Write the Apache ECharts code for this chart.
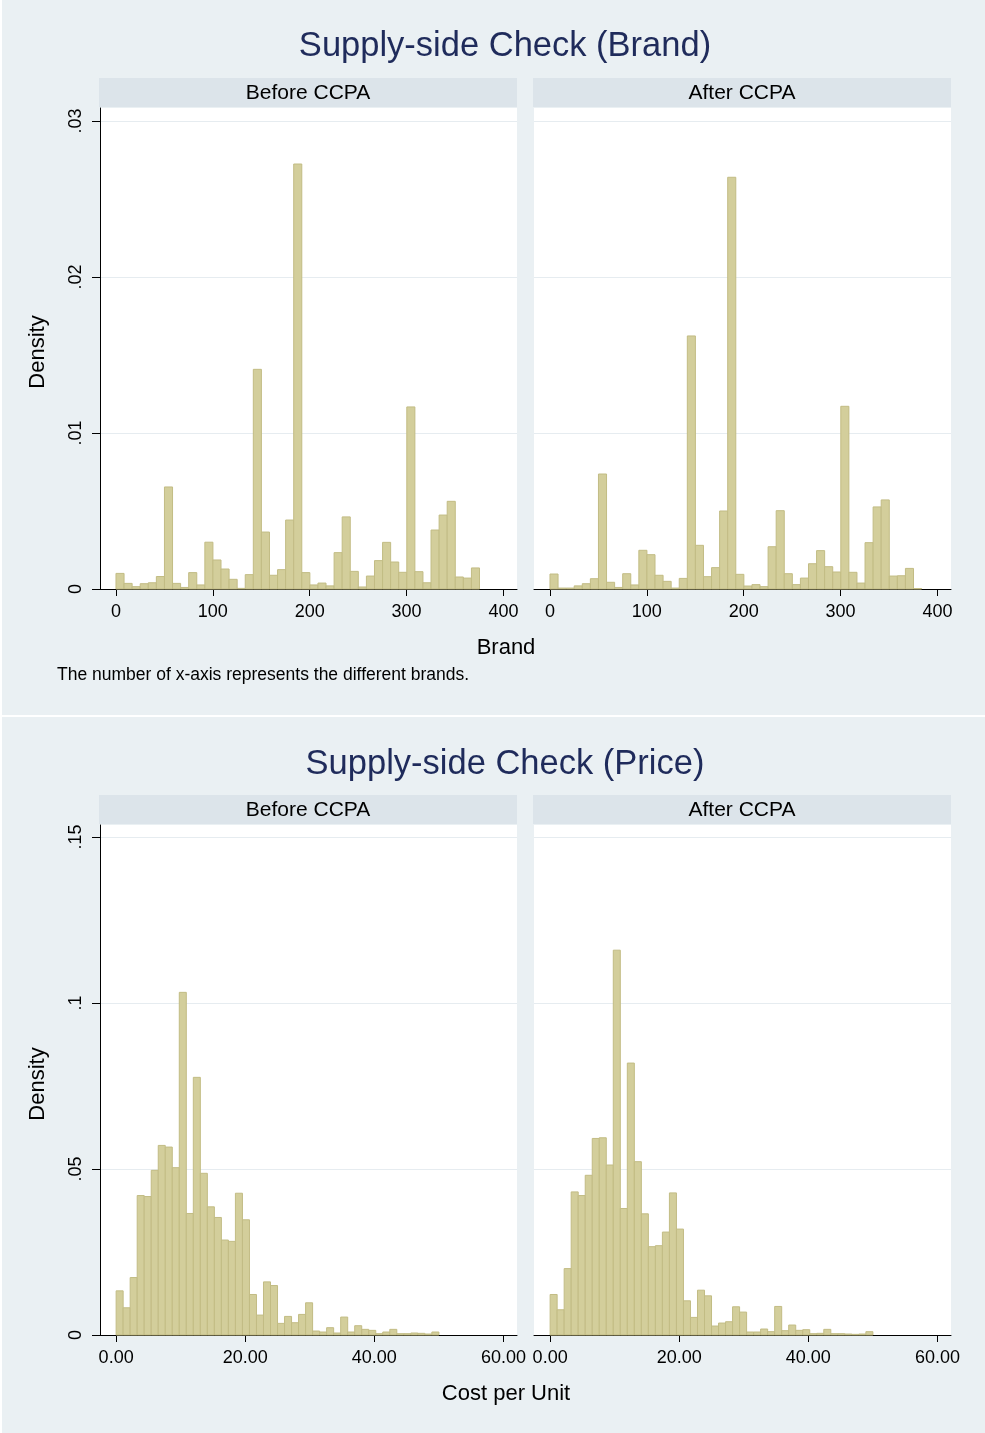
<!DOCTYPE html>
<html><head><meta charset="utf-8">
<script src="https://cdn.jsdelivr.net/npm/echarts@6/dist/echarts.min.js"></script>
<style>html,body{margin:0;padding:0;background:#fff}#c{width:985px;height:1433px}</style>
</head><body><div id="c"></div>
<script>
// ---------- data ----------
const brandBinStart = 0;
const brandBinWidth = 8.34;
const brandBefore = [0.0010, 0.00036, 0.00015, 0.00034, 0.0004, 0.0008, 0.00654, 0.00036, 0.0001, 0.00105,
  0.00026, 0.0030, 0.00186, 0.00128, 0.00062, 0.00004, 0.00092, 0.01408, 0.00365, 0.00088,
  0.00124, 0.00442, 0.02724, 0.00105, 0.00026, 0.00038, 0.0002, 0.00233, 0.00462, 0.00113,
  0.00013, 0.00083, 0.00182, 0.00299, 0.00173, 0.00107, 0.01167, 0.00111, 0.0004, 0.00378,
  0.00474, 0.00562, 0.00077, 0.0007, 0.00135];
const brandAfter = [0.00096, 0.00006, 0.00006, 0.0002, 0.00034, 0.00066, 0.00737, 0.00043, 0.0001, 0.00098,
  0.00026, 0.00248, 0.0022, 0.00088, 0.00049, 0.00006, 0.00068, 0.01622, 0.0028, 0.00079,
  0.00137, 0.005, 0.02639, 0.00094, 0.00019, 0.00028, 0.00015, 0.00271, 0.00502, 0.00098,
  0.00028, 0.0007, 0.00162, 0.00246, 0.00143, 0.00109, 0.01171, 0.00107, 0.00038, 0.00297,
  0.00526, 0.00571, 0.00083, 0.00085, 0.00132, 0.00003];
const priceBinStart = 0;
const priceBinWidth = 1.087;
const priceBefore = [0.0133, 0.0082, 0.0173, 0.0420, 0.0417, 0.0496, 0.0571, 0.0566, 0.0504, 0.1032,
  0.0366, 0.0776, 0.0487, 0.0386, 0.0354, 0.0286, 0.0282, 0.0427, 0.0347, 0.0122,
  0.0060, 0.0160, 0.0149, 0.0035, 0.0056, 0.0037, 0.0062, 0.0097, 0.0012, 0.0009,
  0.0022, 0.0006, 0.0054, 0.0009, 0.0028, 0.0017, 0.0014, 0.0004, 0.0009, 0.0017,
  0.0004, 0.0004, 0.0006, 0.0005, 0.0003, 0.0009];
const priceAfter = [0.0122, 0.0076, 0.0200, 0.0431, 0.0420, 0.0481, 0.0592, 0.0594, 0.0512, 0.1159,
  0.0381, 0.0819, 0.0522, 0.0365, 0.0266, 0.0269, 0.0310, 0.0428, 0.0319, 0.0103,
  0.0053, 0.0135, 0.0118, 0.0027, 0.0036, 0.0040, 0.0085, 0.0069, 0.0009, 0.0009,
  0.0018, 0.0010, 0.0086, 0.0013, 0.0030, 0.0014, 0.0016, 0.0004, 0.0005, 0.0017,
  0.0004, 0.0004, 0.0003, 0.0002, 0.0003, 0.0010];
const brandXTicks = [0, 100, 200, 300, 400];
const priceXTicks = [0, 20, 40, 60];
const brandYTicks = [0, 0.01, 0.02, 0.03];
const priceYTicks = [0, 0.05, 0.1, 0.15];
const panelTitles = ['Supply-side Check (Brand)', 'Supply-side Check (Price)'];
const facetLabels = ['Before CCPA', 'After CCPA'];
const xTitles = ['Brand', 'Cost per Unit'];
const yTitle = 'Density';
const noteText = 'The number of x-axis represents the different brands.';

// ---------- styling ----------
const FONT = "'Liberation Sans', Arial, Helvetica, sans-serif";
const BG = '#EAF0F3';
const STRIP = '#DCE4EA';
const GRIDC = '#E6ECF0';
const BAR_FILL = '#D3CE9B';
const BAR_LINE = '#C2BC84';
const TITLE_C = '#1F2B5B';

const grids = [
  {left: 100, top: 108, width: 417, height: 481},
  {left: 534, top: 108, width: 417, height: 481},
  {left: 100, top: 825, width: 417, height: 510},
  {left: 534, top: 825, width: 417, height: 510}
].map(g => Object.assign({show: true, backgroundColor: '#fff', borderWidth: 0, containLabel: false}, g));

function densFmt(v) {
  if (Math.abs(v) < 1e-12) return '0';
  return String(+v.toFixed(4)).replace(/^0/, '');
}

function xAxis(idx, min, max, ticks, fmt) {
  return {
    type: 'value', gridIndex: idx, min: min, max: max,
    axisLine: {show: true, onZero: false, lineStyle: {color: '#000', width: 1}},
    axisTick: {show: true, length: 7, lineStyle: {color: '#000'}, customValues: ticks},
    axisLabel: {show: true, margin: 14, fontSize: 18, color: '#000', fontFamily: FONT,
      customValues: ticks, formatter: fmt},
    splitLine: {show: false}
  };
}
function yAxis(idx, max, ticks, interval, showAxis) {
  return {
    type: 'value', gridIndex: idx, min: 0, max: max, interval: interval,
    axisLine: {show: showAxis, onZero: false, lineStyle: {color: '#000', width: 1}},
    axisTick: {show: showAxis, length: 8, lineStyle: {color: '#000'}, customValues: ticks},
    axisLabel: {show: showAxis, rotate: 90, margin: 15, fontSize: 18, color: '#000', fontFamily: FONT,
      customValues: ticks, formatter: densFmt},
    splitLine: {show: true, lineStyle: {color: GRIDC, width: 1}}
  };
}

function histSeries(values, start, width, idx) {
  return {
    type: 'custom', xAxisIndex: idx, yAxisIndex: idx, silent: true, clip: false,
    data: values.map((v, i) => [start + i * width, start + (i + 1) * width, v]),
    encode: {x: [0, 1], y: 2},
    renderItem: function (params, api) {
      const p0 = api.coord([api.value(0), api.value(2)]);
      const p1 = api.coord([api.value(1), 0]);
      return {
        type: 'rect',
        shape: {x: p0[0], y: p0[1], width: p1[0] - p0[0], height: p1[1] - p0[1]},
        style: {fill: BAR_FILL, stroke: BAR_LINE, lineWidth: 1}
      };
    }
  };
}

const brandX = v => String(Math.round(v));
const priceX = v => v.toFixed(2);

const graphics = [
  {type: 'rect', shape: {x: 0, y: 0, width: 2, height: 1433}, style: {fill: '#fff'}},
  {type: 'rect', shape: {x: 0, y: 715, width: 985, height: 2}, style: {fill: '#fff'}}
];
function txt(text, x, y, size, opts) {
  return Object.assign({
    type: 'text', x: x, y: y, z: 100,
    style: {text: text, fontSize: size, fontFamily: FONT, fill: '#000', align: 'center', verticalAlign: 'middle'}
  }, opts || {});
}
// panel titles
const t1 = txt(panelTitles[0], 505, 46, 34.5); t1.style.fill = TITLE_C; graphics.push(t1);
const t2 = txt(panelTitles[1], 505, 764, 34.5); t2.style.fill = TITLE_C; graphics.push(t2);
// facet strips
[[100, 78], [534, 78], [100, 795], [534, 795]].forEach((p, i) => {
  graphics.push({type: 'rect', shape: {x: p[0] - 1, y: p[1], width: 418, height: 29}, style: {fill: STRIP}});
  graphics.push(txt(facetLabels[i % 2], p[0] + 208, p[1] + 15.5, 21));
});
// axis titles
graphics.push(txt(xTitles[0], 506, 648, 22));
graphics.push(txt(xTitles[1], 506, 1394, 22));
graphics.push(txt(yTitle, 38, 352, 22, {rotation: Math.PI / 2}));
graphics.push(txt(yTitle, 38, 1084, 22, {rotation: Math.PI / 2}));
const note = txt(noteText, 57, 675, 17.5);
note.style.align = 'left';
graphics.push(note);

const chart = echarts.init(document.getElementById('c'), null, {renderer: 'canvas'});
chart.setOption({
  backgroundColor: BG,
  animation: false,
  grid: grids,
  xAxis: [
    xAxis(0, -16.5, 414, brandXTicks, brandX),
    xAxis(1, -16.5, 414, brandXTicks, brandX),
    xAxis(2, -2.5, 62.1, priceXTicks, priceX),
    xAxis(3, -2.5, 62.1, priceXTicks, priceX)
  ],
  yAxis: [
    yAxis(0, 0.03083, brandYTicks, 0.01, true),
    yAxis(1, 0.03083, brandYTicks, 0.01, false),
    yAxis(2, 0.1536, priceYTicks, 0.05, true),
    yAxis(3, 0.1536, priceYTicks, 0.05, false)
  ],
  series: [
    histSeries(brandBefore, brandBinStart, brandBinWidth, 0),
    histSeries(brandAfter, brandBinStart, brandBinWidth, 1),
    histSeries(priceBefore, priceBinStart, priceBinWidth, 2),
    histSeries(priceAfter, priceBinStart, priceBinWidth, 3)
  ],
  graphic: {elements: graphics}
});
</script>
</body></html>
